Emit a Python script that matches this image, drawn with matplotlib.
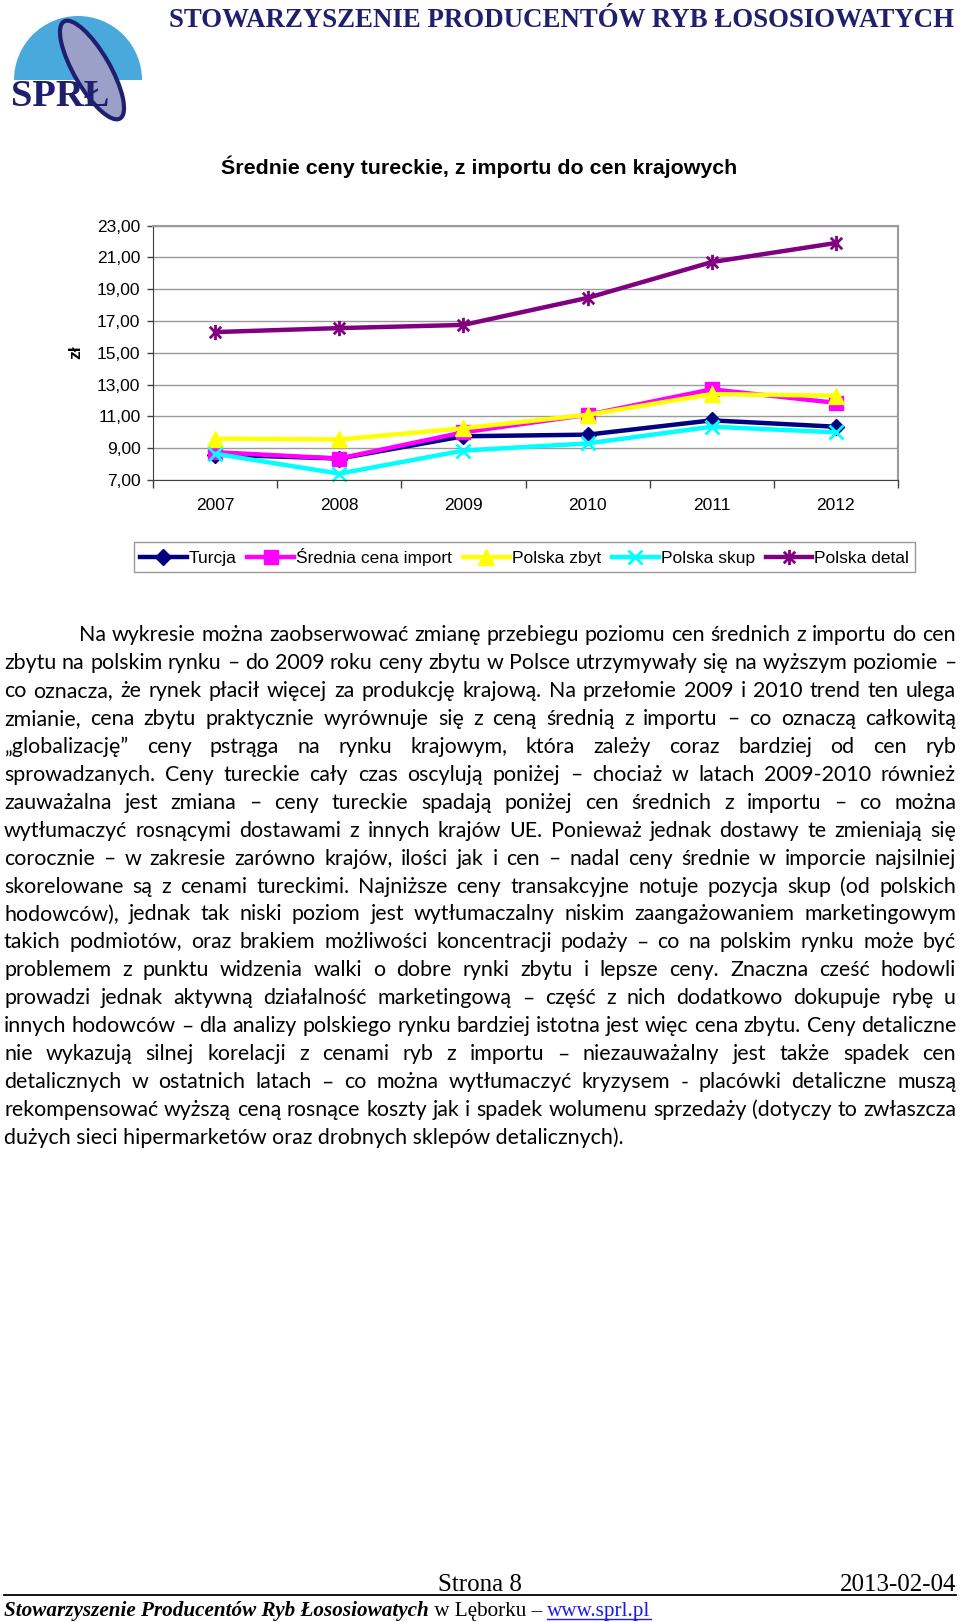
import numpy as np
import matplotlib
matplotlib.use("Agg")
import matplotlib.pyplot as plt
from matplotlib.path import Path
from matplotlib.patches import Ellipse, Wedge

W, H = 960, 1622

# --- dane wykresu ---
years = ["2007", "2008", "2009", "2010", "2011", "2012"]
turcja = [8.60, 8.35, 9.75, 9.85, 10.75, 10.35]
import_sr = [8.75, 8.35, 10.00, 11.10, 12.70, 11.85]
zbyt = [9.60, 9.55, 10.25, 11.10, 12.40, 12.30]
skup = [8.65, 7.40, 8.85, 9.30, 10.35, 10.00]
detal = [16.30, 16.55, 16.75, 18.45, 20.70, 21.90]
series_names = ["Turcja", "Średnia cena import", "Polska zbyt", "Polska skup", "Polska detal"]
y_ticks = [7, 9, 11, 13, 15, 17, 19, 21, 23]

header = "STOWARZYSZENIE PRODUCENTÓW RYB ŁOSOSIOWATYCH"
chart_title = "Średnie ceny tureckie, z importu do cen krajowych"

body_lines = [
    "Na wykresie można zaobserwować zmianę przebiegu poziomu cen średnich z importu do cen",
    "zbytu na polskim rynku – do 2009 roku ceny zbytu w Polsce utrzymywały się na wyższym poziomie –",
    "co oznacza, że rynek płacił więcej za produkcję krajową. Na przełomie 2009 i 2010 trend ten ulega",
    "zmianie, cena zbytu praktycznie wyrównuje się z ceną średnią z importu – co oznaczą całkowitą",
    "„globalizację” ceny pstrąga na rynku krajowym, która zależy coraz bardziej od cen ryb",
    "sprowadzanych. Ceny tureckie cały czas oscylują poniżej – chociaż w latach 2009-2010 również",
    "zauważalna jest zmiana – ceny tureckie spadają poniżej cen średnich z importu – co można",
    "wytłumaczyć rosnącymi dostawami z innych krajów UE. Ponieważ jednak dostawy te zmieniają się",
    "corocznie – w zakresie zarówno krajów, ilości jak i cen – nadal ceny średnie w imporcie najsilniej",
    "skorelowane są z cenami tureckimi. Najniższe ceny transakcyjne notuje pozycja skup (od polskich",
    "hodowców), jednak tak niski poziom jest wytłumaczalny niskim zaangażowaniem marketingowym",
    "takich podmiotów, oraz brakiem możliwości koncentracji podaży – co na polskim rynku może być",
    "problemem z punktu widzenia walki o dobre rynki zbytu i lepsze ceny. Znaczna cześć hodowli",
    "prowadzi jednak aktywną działalność marketingową – część z nich dodatkowo dokupuje rybę u",
    "innych hodowców – dla analizy polskiego rynku bardziej istotna jest więc cena zbytu. Ceny detaliczne",
    "nie wykazują silnej korelacji z cenami ryb z importu – niezauważalny jest także spadek cen",
    "detalicznych w ostatnich latach – co można wytłumaczyć kryzysem - placówki detaliczne muszą",
    "rekompensować wyższą ceną rosnące koszty jak i spadek wolumenu sprzedaży (dotyczy to zwłaszcza",
    "dużych sieci hipermarketów oraz drobnych sklepów detalicznych).",
]

SANS = ["Liberation Sans", "DejaVu Sans"]
SERIF = ["Liberation Serif", "DejaVu Serif"]
BODY = ["Lato", "Noto Sans", "DejaVu Sans"]
NAVY = "#1f1f6e"


def fx(x):
    return x / W


def fy(y):
    return 1 - y / H


fig = plt.figure(figsize=(W / 100, H / 100), dpi=100)
renderer = fig.canvas.get_renderer()


def text_width(s, size, **kw):
    t = fig.text(0, 0, s, fontsize=size, **kw)
    w = t.get_window_extent(renderer).width
    t.remove()
    return w


def fit_size(s, target, **kw):
    return 10 * target / text_width(s, 10, **kw)


# --- logo + linia stopki ---
logo = fig.add_axes([0, 0, 1, 1], zorder=-1)
logo.set_xlim(0, W)
logo.set_ylim(H, 0)
logo.axis("off")
logo.add_patch(Wedge((78, 80), 64, 180, 360, facecolor="#49a9dd", edgecolor="none"))
logo.add_patch(Ellipse((92, 70), 36, 112, angle=-30, facecolor="#9aa0c8",
                       edgecolor=NAVY, lw=3))
logo.text(60, 96, "SPRŁ", fontsize=fit_size("SPRŁ", 98, family=SERIF, weight="bold"),
          family=SERIF, weight="bold", color=NAVY, ha="center", va="center", zorder=5)
logo.plot([4, 956], [1595, 1595], color="black", lw=1.3)

# --- naglowek ---
fs = fit_size(header, 785, family=SERIF, weight="bold")
fig.text(fx(954), fy(27), header, fontsize=fs, family=SERIF, weight="bold",
         color=NAVY, ha="right", va="baseline")

fs = fit_size(chart_title, 515, family=SANS, weight="bold")
fig.text(fx(479), fy(166.5), chart_title, fontsize=fs, family=SANS, weight="bold",
         ha="center", va="center")

# --- wykres ---
ax = fig.add_axes([fx(153), fy(480), (898 - 153) / W, (480 - 225.5) / H])
x = np.arange(len(years))
star = Path([(0, -1), (0, 1), (-0.75, -0.75), (0.75, 0.75), (-0.75, 0.75), (0.75, -0.75)],
            [Path.MOVETO, Path.LINETO] * 3)
styles = [
    (turcja, "#000080", "D", 8.5, 1),
    (import_sr, "#ff00ff", "s", 9.5, 1),
    (zbyt, "#ffff00", "^", 11, 1),
    (skup, "#00ffff", "x", 10, 2),
    (detal, "#800080", star, 11, 2),
]
for (vals, col, mk, ms, mew), name in zip(styles, series_names):
    ax.plot(x, vals, color=col, lw=3.2, marker=mk, ms=ms, mew=mew,
            mec=col, mfc=col, label=name, clip_on=False)

ax.set_xlim(-0.5, 5.5)
ax.set_ylim(7, 23)
ax.set_yticks(y_ticks)
ax.set_yticklabels([f"{v:.2f}".replace(".", ",") for v in y_ticks],
                   fontsize=12.5, family=SANS)
ax.set_xticks(np.arange(-0.5, 6, 1))
ax.set_xticklabels([])
ax.set_xticks(x, minor=True)
ax.set_xticklabels(years, minor=True, fontsize=12.5, family=SANS)
ax.tick_params(axis="x", which="major", length=6, width=1, color="#404040")
ax.tick_params(axis="x", which="minor", length=0, pad=13)
ax.tick_params(axis="y", length=4, width=1, color="#404040", pad=5)
ax.yaxis.grid(True, color="#9a9a9a", lw=1)
ax.set_axisbelow(True)
for side in ["left", "bottom"]:
    ax.spines[side].set_color("#404040")
for side in ["top", "right"]:
    ax.spines[side].set_color("#9a9a9a")
    ax.spines[side].set_linewidth(1.5)

fig.text(fx(75.5), fy(352), "zł", rotation=90, fontsize=12.5, family=SANS,
         weight="bold", ha="center", va="center")

handles, labels = ax.get_legend_handles_labels()
fig.legend(handles, labels, loc="center", bbox_to_anchor=(fx(524.5), fy(557)),
           ncol=5, frameon=True, fancybox=False, edgecolor="#808080",
           handlelength=2.7, handletextpad=0.12, columnspacing=0.62,
           borderpad=0.35, prop={"family": SANS, "size": 12.5})

# --- tekst wyjustowany ---
body_fs = fit_size(body_lines[-1], 618, family=BODY)
left, right = 4, 956
base0, step = 641, 27.95
for i, line in enumerate(body_lines):
    yb = fy(base0 + i * step)
    x0 = 78.6 if i == 0 else left
    if i == len(body_lines) - 1:
        fig.text(fx(x0), yb, line, fontsize=body_fs, family=BODY, va="baseline")
        continue
    words = line.split(" ")
    widths = [text_width(w, body_fs, family=BODY) for w in words]
    gap = (right - x0 - sum(widths)) / (len(words) - 1)
    pos = x0
    for w, wd in zip(words, widths):
        fig.text(fx(pos), yb, w, fontsize=body_fs, family=BODY, va="baseline")
        pos += wd + gap

# --- stopka ---
fig.text(fx(480), fy(1591), "Strona 8", fontsize=18, family=SERIF,
         ha="center", va="baseline")
fig.text(fx(956), fy(1591), "2013-02-04", fontsize=18, family=SERIF,
         ha="right", va="baseline")

part1 = "Stowarzyszenie Producentów Ryb Łososiowatych"
fs_f = fit_size(part1, 425, family=SERIF, weight="bold", style="italic")
pos = 4
fig.text(fx(pos), fy(1616), part1, fontsize=fs_f, family=SERIF, weight="bold",
         style="italic", va="baseline")
pos += text_width(part1, fs_f, family=SERIF, weight="bold", style="italic")
part2 = " w Lęborku – "
fig.text(fx(pos), fy(1616), part2, fontsize=fs_f, family=SERIF, va="baseline")
pos += text_width(part2, fs_f, family=SERIF)
part3 = "www.sprl.pl"
w3 = text_width(part3, fs_f, family=SERIF)
fig.text(fx(pos), fy(1616), part3, fontsize=fs_f, family=SERIF, color="#1a1aee",
         va="baseline")
logo.plot([pos, pos + w3], [1618.5, 1618.5], color="#1a1aee", lw=1)

fig.savefig("out.png", dpi=100)
